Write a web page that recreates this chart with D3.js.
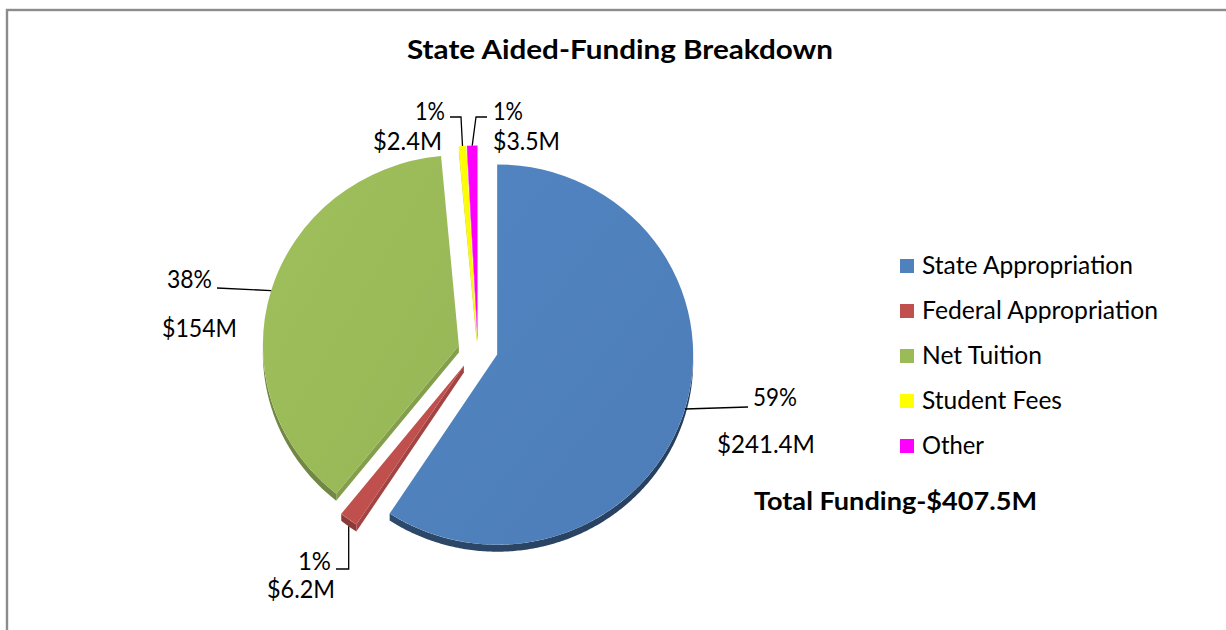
<!DOCTYPE html>
<html>
<head>
<meta charset="utf-8">
<script src="https://cdn.jsdelivr.net/npm/d3@7"></script>
<style>
  body { margin: 0; background: #fff; }
  svg { display: block; }
</style>
</head>
<body>
<svg id="chart" width="1226" height="630"></svg>
<script>
// ---- data ----
const categories = ["State Appropriation", "Federal Appropriation", "Net Tuition", "Student Fees", "Other"];
const amounts = [241.4, 6.2, 154, 2.4, 3.5];               // $ millions
const percentLabels = ["59%", "1%", "38%", "1%", "1%"];
const amountLabels = ["$241.4M", "$6.2M", "$154M", "$2.4M", "$3.5M"];
const sliceColors = ["#4F81BD", "#C0504D", "#9BBB59", "#FFFF00", "#FF00FF"];
const chartTitle = "State Aided-Funding Breakdown";
const totalLabel = "Total Funding-$407.5M";

// ---- layout ----
const W = 1226, H = 630;
const FONT = "Lato, 'Open Sans', sans-serif";
const R = 196;            // pie radius (horizontal)
const KY = 0.97;          // vertical squash of the tilted pie
const DEPTH = 7;          // thickness of the 3-D pie
const center = [478, 350];
const explode = [20, 24, 20, 18, 18];

const svg = d3.select("#chart");
const defs = svg.append("defs");

// outer frame
svg.append("rect")
  .attr("x", 7).attr("y", 10)
  .attr("width", W + 100).attr("height", H + 100)
  .attr("fill", "none").attr("stroke", "#8c8c8c").attr("stroke-width", 2.4);

const pie = d3.pie().sort(null).value(d => d);
const arcs = pie(amounts);
const arcGen = d3.arc().innerRadius(0).outerRadius(R);

function apex(a, i) {
  const m = (a.startAngle + a.endAngle) / 2;
  return [center[0] + explode[i] * Math.sin(m), center[1] - explode[i] * Math.cos(m) * 0.8];
}
function rim(a, i, ang, dy = 0) {
  const p = apex(a, i);
  return [p[0] + R * Math.sin(ang), p[1] - R * Math.cos(ang) * KY + dy];
}

// gradients for top faces and rims
sliceColors.forEach((c, i) => {
  const base = d3.color(c);
  const g = defs.append("linearGradient").attr("id", "top" + i)
    .attr("x1", 0).attr("y1", 0).attr("x2", 1).attr("y2", 1);
  g.append("stop").attr("offset", "0%").attr("stop-color", base.brighter(0.08));
  g.append("stop").attr("offset", "100%").attr("stop-color", base.darker(0.08));
  const s = defs.append("linearGradient").attr("id", "rim" + i)
    .attr("x1", 0).attr("y1", 0).attr("x2", 1).attr("y2", 0);
  s.append("stop").attr("offset", "0%").attr("stop-color", base.darker(1.6));
  s.append("stop").attr("offset", "100%").attr("stop-color", base.darker(2.0));
});

const line = d3.line();
const sides = svg.append("g");
const tops = svg.append("g");

arcs.forEach((a, i) => {
  const c = d3.color(sliceColors[i]);
  const p = apex(a, i);
  // radial walls that face the viewer
  if (Math.sin(a.startAngle) < -1e-6) {
    const q = rim(a, i, a.startAngle);
    sides.append("path")
      .attr("d", line([p, q, [q[0], q[1] + DEPTH], [p[0], p[1] + DEPTH]]) + "Z")
      .attr("fill", c.darker(0.45));
  }
  if (Math.sin(a.endAngle) > 1e-6) {
    const q = rim(a, i, a.endAngle);
    sides.append("path")
      .attr("d", line([p, q, [q[0], q[1] + DEPTH], [p[0], p[1] + DEPTH]]) + "Z")
      .attr("fill", c.darker(0.45));
  }
  // outer rim (lower half of the pie)
  const a0 = Math.max(a.startAngle, Math.PI / 2), a1 = Math.min(a.endAngle, 3 * Math.PI / 2);
  if (a1 > a0) {
    const n = Math.max(2, Math.ceil((a1 - a0) / 0.01));
    const topEdge = d3.range(n + 1).map(k => rim(a, i, a0 + (a1 - a0) * k / n));
    const botEdge = d3.range(n + 1).map(k => rim(a, i, a1 - (a1 - a0) * k / n, DEPTH));
    sides.append("path")
      .attr("d", line(topEdge.concat(botEdge)) + "Z")
      .attr("fill", i === 0 ? `url(#rim${i})` : c.darker(0.9));
  }
  // top face
  tops.append("path")
    .attr("d", arcGen(a))
    .attr("transform", `translate(${p[0]},${p[1]}) scale(1,${KY})`)
    .attr("fill", `url(#top${i})`);
});

// text helper: place text and stretch it to the given span
function addText(str, x, y, width, size, weight) {
  const t = svg.append("text")
    .attr("x", x).attr("y", y)
    .attr("font-family", FONT).attr("font-size", size)
    .attr("font-weight", weight || "normal")
    .attr("fill", "#000")
    .text(str);
  if (width) t.attr("textLength", width).attr("lengthAdjust", "spacingAndGlyphs");
  return t;
}

// title
addText(chartTitle, 407, 59, 426, 27, "bold");

// data labels with leader lines
const LS = 24.5;
const labelSpec = [
  { pct: [753, 406, 44], amt: [717, 453, 98], path: m => [m, [748, 407]] },
  { pct: [298, 570, 33], amt: [267, 598, 68], path: m => [m, [m[0], 569], [336, 569]] },
  { pct: [167, 288, 45], amt: [162, 337, 75], path: m => [m, [217, 288]] },
  { pct: [415, 120, 30], amt: [373, 150, 69], path: m => [m, [461, 117], [450, 117]] },
  { pct: [493, 120, 30], amt: [493, 150, 67], path: m => [m, [476, 117], [487, 117]] }
];
arcs.forEach((a, i) => {
  const s = labelSpec[i];
  const mid = (a.startAngle + a.endAngle) / 2;
  const facing = Math.cos(mid) < 0 ? DEPTH : 0;
  const m = rim(a, i, mid, i === 1 ? facing : 0);
  svg.append("path")
    .attr("d", line(s.path(m)))
    .attr("fill", "none").attr("stroke", "#000").attr("stroke-width", 1.3);
  addText(percentLabels[i], s.pct[0], s.pct[1], s.pct[2], LS);
  addText(amountLabels[i], s.amt[0], s.amt[1], s.amt[2], LS);
});

// legend
const legendWidths = [211, 236, 120, 140, 62];
categories.forEach((name, i) => {
  const y = 266 + i * 45;
  svg.append("rect").attr("x", 900).attr("y", y - 7).attr("width", 14).attr("height", 14)
    .attr("fill", sliceColors[i]);
  addText(name, 922, y + 8, legendWidths[i], LS);
});

// total
addText(totalLabel, 754, 510, 283, 25, "bold");
</script>
</body>
</html>
